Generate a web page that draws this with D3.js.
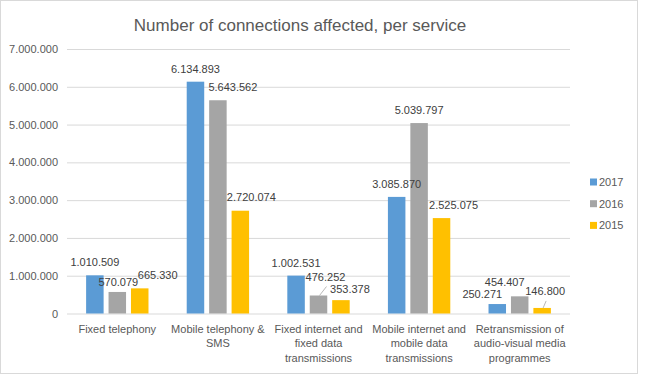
<!DOCTYPE html>
<html>
<head>
<meta charset="utf-8">
<script src="https://cdn.jsdelivr.net/npm/d3@7"></script>
<style>
  body { margin: 0; background: #fff; }
  svg { display: block; font-family: "Liberation Sans", Arial, sans-serif; }
  .axis path { display: none; }
  .axis line { stroke: #d9d9d9; }
  .axis text { fill: #595959; font-size: 11px; }
</style>
</head>
<body>
<div class="bar-chart"></div>
<script>
// DATA ----------------------------------------------
const categories = [
  'Fixed telephony',
  'Mobile telephony & SMS',
  'Fixed internet and fixed data transmissions',
  'Mobile internet and mobile data transmissions',
  'Retransmission of audio-visual media programmes'
];
// how Excel wrapped the category names
const categoryLines = [
  ['Fixed telephony'],
  ['Mobile telephony &', 'SMS'],
  ['Fixed internet and', 'fixed data', 'transmissions'],
  ['Mobile internet and', 'mobile data', 'transmissions'],
  ['Retransmission of', 'audio-visual media', 'programmes']
];
const seriesNames = ['2017', '2016', '2015'];
const values2017 = [1010509, 6134893, 1002531, 3085870, 250271];
const values2016 = [570079, 5643562, 476252, 5039797, 454407];
const values2015 = [665330, 2720074, 353378, 2525075, 146800];
const yTicks = [0, 1000000, 2000000, 3000000, 4000000, 5000000, 6000000, 7000000];

const colors = ['#5b9bd5', '#a5a5a5', '#ffc000'];

// label nudges (dx, dy) that were dragged by hand in the original
const labelNudge = [
  [[0, 0], [0, 0], [0, 0], [0, 0], [-15, 3]],
  [[1, 3], [15, 0], [7, -6], [0, 0], [-15, -1]],
  [[18, 0], [11, -1], [9, 2], [12, 0], [3, -4]]
];
const leaders = [[1, 2], [2, 4]]; // [series, category]

// CHART INIT ----------------------------------------
const W = 651, H = 374;
const plot = {left: 67, right: 570, top: 49, bottom: 313.5};

const svg = d3.select('.bar-chart').append('svg')
  .attr('width', W)
  .attr('height', H);

svg.append('rect')
  .attr('x', 0.5).attr('y', 0.5)
  .attr('width', 637).attr('height', 373)
  .attr('fill', '#fff')
  .attr('stroke', '#d9d9d9');

svg.append('text')
  .attr('x', 300)
  .attr('y', 31)
  .attr('text-anchor', 'middle')
  .attr('fill', '#595959')
  .style('font-size', '17px')
  .text('Number of connections affected, per service');

const series = seriesNames.map((name, i) => ({
  name: name,
  color: colors[i],
  values: [values2017, values2016, values2015][i]
}));

const x0 = d3.scaleBand()
  .domain(categories)
  .range([plot.left, plot.right])
  .paddingInner(0.38)
  .paddingOuter(0.19);

const x1 = d3.scaleBand()
  .domain(seriesNames)
  .range([0, x0.bandwidth()])
  .paddingInner(0.22);

const y = d3.scaleLinear()
  .domain([0, 7000000])
  .range([plot.bottom, plot.top]);

const fmt = d3.formatLocale({decimal: ',', thousands: '.', grouping: [3], currency: ['', '']}).format(',d');

const yAxis = d3.axisLeft(y)
  .tickValues(yTicks)
  .tickSize(-(plot.right - plot.left))
  .tickPadding(9)
  .tickFormat(fmt);

svg.append('g')
  .attr('class', 'axis y-axis')
  .attr('transform', `translate(${plot.left},0)`)
  .call(yAxis);

// BARS ----------------------------------------------
const points = [];
series.forEach((s, si) => s.values.forEach((v, ci) => points.push({v: v, ci: ci, si: si, s: s})));

svg.append('g').attr('class', 'bars')
  .selectAll('rect')
  .data(points)
  .enter().append('rect')
  .attr('x', d => x0(categories[d.ci]) + x1(d.s.name))
  .attr('y', d => y(d.v))
  .attr('width', x1.bandwidth())
  .attr('height', d => y(0) - y(d.v))
  .attr('fill', d => d.s.color);

// LABELS --------------------------------------------
function labelPos(si, ci) {
  const s = series[si];
  const cx = x0(categories[ci]) + x1(s.name) + x1.bandwidth() / 2;
  const top = y(s.values[ci]);
  return {cx: cx, top: top, x: cx + labelNudge[si][ci][0], y: top - 9 + labelNudge[si][ci][1]};
}

leaders.forEach(([si, ci]) => {
  const p = labelPos(si, ci);
  svg.append('line')
    .attr('x1', p.cx + 1).attr('y1', p.top)
    .attr('x2', p.x + 1).attr('y2', p.y + 6)
    .attr('stroke', '#a6a6a6')
    .attr('stroke-width', 0.8);
});

svg.append('g').attr('class', 'labels')
  .selectAll('text')
  .data(points)
  .enter().append('text')
  .attr('x', d => labelPos(d.si, d.ci).x)
  .attr('y', d => labelPos(d.si, d.ci).y)
  .attr('text-anchor', 'middle')
  .attr('fill', '#404040')
  .style('font-size', '11px')
  .text(d => fmt(d.v));

// CATEGORY LABELS -----------------------------------
const catText = svg.selectAll('.cat')
  .data(categories)
  .enter().append('text')
  .attr('class', 'cat')
  .attr('text-anchor', 'middle')
  .attr('fill', '#595959')
  .style('font-size', '11px');

catText.selectAll('tspan')
  .data((c, i) => categoryLines[i].map(line => ({line: line, c: c})))
  .enter().append('tspan')
  .attr('x', d => x0(d.c) + x0.bandwidth() / 2)
  .attr('y', (d, i) => 333 + i * 14.3)
  .text(d => d.line);

// LEGEND --------------------------------------------
const legend = svg.selectAll('.legend')
  .data(series)
  .enter().append('g')
  .attr('class', 'legend')
  .attr('transform', (d, i) => `translate(590, ${182 + i * 21.7})`);

legend.append('rect')
  .attr('x', 0).attr('y', -3.5)
  .attr('width', 7).attr('height', 7)
  .attr('fill', d => d.color);

legend.append('text')
  .attr('x', 9)
  .attr('y', 4)
  .attr('fill', '#595959')
  .style('font-size', '11px')
  .text(d => d.name);
</script>
</body>
</html>
